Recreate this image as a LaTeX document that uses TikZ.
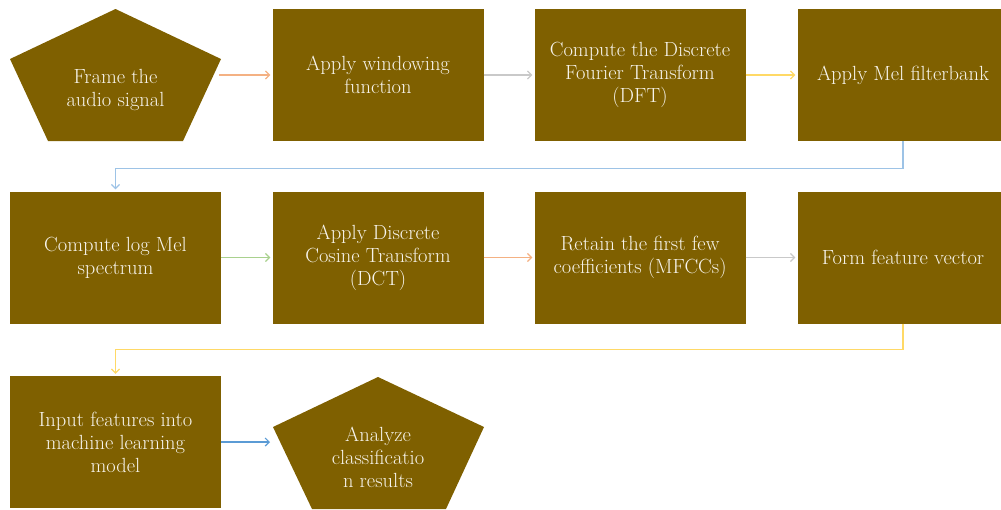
\documentclass[tikz,border=0pt]{standalone}
\usetikzlibrary{arrows.meta}
\definecolor{boxfill}{HTML}{7F6000}
\definecolor{txt}{HTML}{F7F4EC}
\definecolor{csalmon}{HTML}{F4B183}
\definecolor{cgray}{HTML}{C9C9C9}
\definecolor{cyellow}{HTML}{FFD966}
\definecolor{clblue}{HTML}{9DC3E6}
\definecolor{cgreen}{HTML}{A9D18E}
\definecolor{cblue}{HTML}{5B9BD5}
\begin{document}
\begin{tikzpicture}[x=1pt,y=-1pt,
  stepbox/.style={fill=boxfill,draw=none,minimum width=211pt,minimum height=132pt,inner sep=0pt,
    text=txt,align=center,font=\rmfamily\fontsize{20.5}{23}\selectfont},
  pentext/.style={text=txt,align=center,font=\rmfamily\fontsize{20.5}{23}\selectfont,inner sep=0pt},
  pentshape/.style={fill=boxfill,draw=none},
  arr/.style={line width=1.2pt,-{Straight Barb[length=4pt,width=8pt]},shorten >=2pt}]
\useasboundingbox (0,0) rectangle (1001,509);
% row 1
\fill[pentshape] (115.5,9) -- (221,59) -- (183,141) -- (48,141) -- (10,59) -- cycle;
\node[pentext] (p1) at (115.5,90) {Frame the\\audio signal};
\coordinate (p1e) at (219,75);
\node[stepbox] (b2) at (378,75) {Apply windowing\\function};
\node[stepbox] (b3) at (640,75) {Compute the Discrete\\Fourier Transform\\(DFT)};
\node[stepbox] (b4) at (903,75) {Apply Mel filterbank};
% row 2
\node[stepbox] (c1) at (115.5,257.5) {Compute log Mel\\spectrum};
\node[stepbox] (c2) at (378,257.5) {Apply Discrete\\Cosine Transform\\(DCT)};
\node[stepbox] (c3) at (640,257.5) {Retain the first few\\coefficients (MFCCs)};
\node[stepbox] (c4) at (903,257.5) {Form feature vector};
% row 3
\node[stepbox] (d1) at (115.5,442) {Input features into\\machine learning\\model};
\fill[pentshape] (378,377) -- (484,427) -- (446,509) -- (312,509) -- (273,427) -- cycle;
\node[pentext] (p2) at (378,457) {Analyze\\classificatio\\n results};
\coordinate (p2w) at (272,442);
% connectors
\draw[arr,csalmon] (p1e) -- (b2.west);
\draw[arr,cgray] (b2.east) -- (b3.west);
\draw[arr,cyellow] (b3.east) -- (b4.west);
\draw[arr,clblue] (b4.south) -- ([yshift=-27pt]b4.south) -| (c1.north);
\draw[arr,cgreen] (c1.east) -- (c2.west);
\draw[arr,csalmon] (c2.east) -- (c3.west);
\draw[arr,cgray] (c3.east) -- (c4.west);
\draw[arr,cyellow] (c4.south) -- ([yshift=-26pt]c4.south) -| (d1.north);
\draw[arr,cblue] (d1.east) -- (p2w);
\end{tikzpicture}
\end{document}
